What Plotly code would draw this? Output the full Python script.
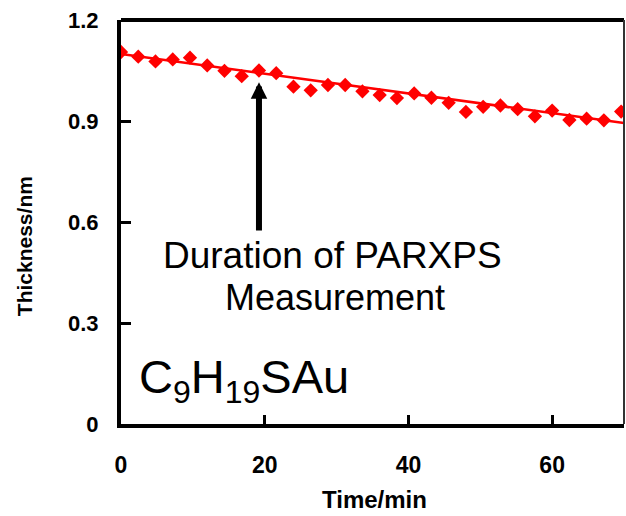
import plotly.graph_objects as go

# Data
time_min = [0, 2.4, 4.8, 7.2, 9.6, 12.0, 14.4, 16.8, 19.2, 21.6, 24.0, 26.4, 28.8, 31.2,
            33.6, 36.0, 38.4, 40.8, 43.2, 45.6, 48.0, 50.4, 52.8, 55.2, 57.6, 60.0,
            62.4, 64.8, 67.2, 69.6]
thickness_nm = [1.105, 1.091, 1.077, 1.083, 1.088, 1.065, 1.049, 1.033, 1.050, 1.042,
                1.002, 0.991, 1.007, 1.007, 0.988, 0.977, 0.968, 0.982, 0.969, 0.954,
                0.927, 0.942, 0.946, 0.935, 0.914, 0.931, 0.903, 0.907, 0.902, 0.928]
fit_time = [0, 70]
fit_thickness = [1.099, 0.894]

x_ticks = [0, 20, 40, 60]
y_ticks = [0, 0.3, 0.6, 0.9, 1.2]
y_tick_text = ["0", "0.3", "0.6", "0.9", "1.2"]

FONT = "Liberation Sans, Arial, sans-serif"

fig = go.Figure()
fig.add_trace(go.Scatter(x=fit_time, y=fit_thickness, mode="lines",
                         line=dict(color="#ff0000", width=2.5), showlegend=False))
fig.add_trace(go.Scatter(x=time_min, y=thickness_nm, mode="markers",
                         marker=dict(symbol="diamond", size=11, color="#ff0000",
                                     line=dict(width=0)), showlegend=False))

fig.update_layout(
    width=626, height=516,
    margin=dict(l=121, r=2, t=20, b=92),
    paper_bgcolor="white", plot_bgcolor="white",
    font=dict(family=FONT, color="black"),
    showlegend=False,
)
fig.update_xaxes(range=[0, 70], tickvals=x_ticks, ticks="inside", ticklen=9, tickwidth=3,
                 tickcolor="black", showline=True, linewidth=4, linecolor="black",
                 showgrid=False, zeroline=False,
                 tickfont=dict(family=FONT, size=23, color="black", weight="bold"),
                 ticklabelstandoff=17)
fig.update_yaxes(range=[0, 1.2], tickvals=y_ticks, ticktext=y_tick_text, ticks="inside",
                 ticklen=10, tickwidth=3, tickcolor="black", showline=True, linewidth=4,
                 linecolor="black", showgrid=False, zeroline=False,
                 tickfont=dict(family=FONT, size=22, color="black", weight="bold"),
                 ticklabelstandoff=14)

# frame top and right
fig.add_shape(type="line", xref="paper", yref="paper", x0=0, x1=1, y0=1, y1=1,
              line=dict(color="black", width=4))
fig.add_shape(type="line", xref="paper", yref="paper", x0=1, x1=1, y0=0, y1=1,
              line=dict(color="#333333", width=2))

# axis titles
fig.add_annotation(text="<b>Time/min</b>", xref="paper", yref="paper", x=0.503, y=-0.188,
                   showarrow=False, font=dict(family=FONT, size=24, color="black"),
                   xanchor="center", yanchor="middle")
fig.add_annotation(text="<b>Thickness/nm</b>", xref="paper", yref="paper", x=-0.193, y=0.44,
                   showarrow=False, textangle=-90, xanchor="center", yanchor="middle",
                   font=dict(family=FONT, size=21, color="black"))

# arrow
fig.add_annotation(x=19.2, y=1.015, ax=19.2, ay=0.57, xref="x", yref="y", axref="x", ayref="y",
                   text="", showarrow=True, arrowhead=2, arrowsize=0.55, arrowwidth=6,
                   arrowcolor="black")
fig.add_annotation(text="Duration of PARXPS", x=0.42, y=0.417, xref="paper", yref="paper",
                   xanchor="center", yanchor="middle",
                   showarrow=False, font=dict(family=FONT, size=37, color="black"))
fig.add_annotation(text="Measurement", x=0.425, y=0.313, xref="paper", yref="paper",
                   xanchor="center", yanchor="middle",
                   showarrow=False, font=dict(family=FONT, size=36, color="black"))
fig.add_annotation(text="C<sub><span style='font-size:32px'>9</span></sub>H<sub><span style='font-size:32px'>19</span></sub>SAu",
                   x=0.031, y=0.11, xref="paper", yref="paper", xanchor="left", yanchor="middle",
                   showarrow=False, font=dict(family=FONT, size=47, color="black"))

fig.write_html("out.html")
